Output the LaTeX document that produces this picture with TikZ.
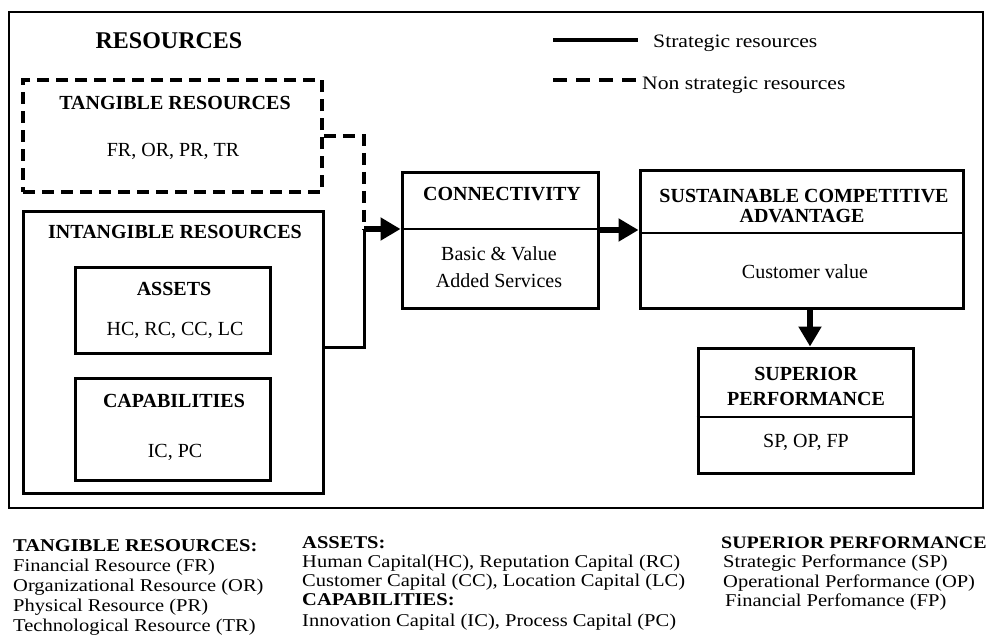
\documentclass[tikz,border=0pt]{standalone}
\usepackage{fontspec}
\setmainfont{Liberation Serif}
\newfontfamily\widefont[FakeStretch=1.14]{Liberation Serif}
\usetikzlibrary{arrows.meta}
\begin{document}
\begin{tikzpicture}[x=1pt,y=-1pt,
  box/.style={draw, line width=3pt, inner sep=0pt},
  dbox/.style={draw, line width=3.5pt, dash pattern=on 12pt off 7pt, inner sep=0pt},
  divline/.style={line width=1.3pt},
  ttl/.style={anchor=base, inner sep=0pt, font=\fontsize{20}{22}\selectfont\bfseries},
  txt/.style={anchor=base, inner sep=0pt, font=\fontsize{20}{22}\selectfont},
  strat/.style={line width=3pt},
  nonstrat/.style={line width=3.5pt, dash pattern=on 12pt off 7pt},
  bigarrow/.style={line width=6pt, -{Triangle[length=20pt,width=22pt]}},
  lg/.style={anchor=base west, inner sep=0pt, font=\widefont\fontsize{19}{21}\selectfont},
  bl/.style={anchor=base west, inner sep=0pt, font=\widefont\fontsize{18}{20}\selectfont},
  bh/.style={anchor=base west, inner sep=0pt, font=\widefont\fontsize{18}{20}\selectfont\bfseries},
]
\useasboundingbox (0,0) rectangle (992,643);

% outer frame
\node[draw, line width=1.3pt, inner sep=0pt, minimum width=974pt, minimum height=496pt] (frame) at (496,260) {};
\node[anchor=base, inner sep=0pt, font=\fontsize{24}{26}\selectfont\bfseries] (restitle) at (169,48) {RESOURCES};

% legend
\coordinate (ls1) at (553,40); \coordinate (ls2) at (638,40);
\coordinate (ln1) at (553,80); \coordinate (ln2) at (637,80);
\draw[line width=3.5pt] (ls1) -- (ls2);
\draw[line width=3.5pt, dash pattern=on 14pt off 9pt] (ln1) -- (ln2);
\node[lg] (lgs) at (653,47) {Strategic resources};
\node[lg] (lgn) at (642,89) {Non strategic resources};

% boxes
\node[dbox, minimum width=299pt, minimum height=112pt] (tang) at (172.5,136) {};
\node[box, minimum width=300pt, minimum height=282pt] (intang) at (173,352) {};
\node[box, minimum width=195pt, minimum height=86pt] (assets) at (172.5,310) {};
\node[box, minimum width=195pt, minimum height=102pt] (capab) at (172.5,429) {};
\node[box, minimum width=196pt, minimum height=136pt] (conn) at (500,240) {};
\node[box, minimum width=323pt, minimum height=138pt] (sca) at (801.5,239) {};
\node[box, minimum width=215pt, minimum height=125pt] (sp) at (805.5,410.5) {};

% dividers
\coordinate (cdiv) at (500,229);
\coordinate (sdiv) at (801.5,233);
\coordinate (pdiv) at (805.5,417);
\draw[divline] (conn.west |- cdiv) -- (conn.east |- cdiv);
\draw[divline] (sca.west |- sdiv) -- (sca.east |- sdiv);
\draw[divline] (sp.west |- pdiv) -- (sp.east |- pdiv);

% texts in boxes
\node[ttl] (t1) at (175,109) {TANGIBLE RESOURCES};
\node[txt] (t2) at (173,156) {FR, OR, PR, TR};
\node[ttl] (t3) at (175,238) {INTANGIBLE RESOURCES};
\node[ttl] (t4) at (174,295) {ASSETS};
\node[txt] (t5) at (175,335) {HC, RC, CC, LC};
\node[ttl] (t6) at (174,407) {CAPABILITIES};
\node[txt] (t7) at (175,457) {IC, PC};
\node[ttl] (t8) at (502,200) {CONNECTIVITY};
\node[txt] (t9) at (499,260) {Basic \& Value};
\node[txt] (t10) at (499,287) {Added Services};
\node[ttl] (t11) at (804,202) {SUSTAINABLE COMPETITIVE};
\node[ttl] (t12) at (802,222) {ADVANTAGE};
\node[txt] (t13) at (805,278) {Customer value};
\node[ttl] (t14) at (806,380) {SUPERIOR};
\node[ttl] (t15) at (806,405) {PERFORMANCE};
\node[txt] (t16) at (806,447) {SP, OP, FP};

% connectors
\coordinate (junc) at (364,229);
\coordinate (j1) at (364,347);
\draw[nonstrat] (tang.east) -- (tang.east -| junc) -- (junc);
\draw[strat] (intang.east |- j1) -- (j1) -- (junc);
\draw[bigarrow] (junc) -- (conn.west |- junc);
\coordinate (a2) at (598,230);
\draw[bigarrow] (conn.east |- a2) -- (sca.west |- a2);
\coordinate (ax) at (810,0);
\draw[bigarrow] (sca.south -| ax) -- (sp.north -| ax);

% bottom legend text
\node[bh] (b1) at (13,551) {TANGIBLE RESOURCES:};
\node[bl] (b2) at (13,571) {Financial Resource (FR)};
\node[bl] (b3) at (13,591) {Organizational Resource (OR)};
\node[bl] (b4) at (13,611) {Physical Resource (PR)};
\node[bl] (b5) at (13,631) {Technological Resource (TR)};

\node[bh] (c1) at (302,548) {ASSETS:};
\node[bl] (c2) at (302,567) {Human Capital(HC), Reputation Capital (RC)};
\node[bl] (c3) at (302,586) {Customer Capital (CC), Location Capital (LC)};
\node[bh] (c4) at (302,605) {CAPABILITIES:};
\node[bl] (c5) at (302,626) {Innovation Capital (IC), Process Capital (PC)};

\node[bh, font=\widefont\fontsize{17.5}{20}\selectfont\bfseries] (d1) at (721,548) {SUPERIOR PERFORMANCE};
\node[bl] (d2) at (723,567) {Strategic Performance (SP)};
\node[bl] (d3) at (723,587) {Operational Performance (OP)};
\node[bl] (d4) at (725,606) {Financial Perfomance (FP)};
\end{tikzpicture}
\end{document}
